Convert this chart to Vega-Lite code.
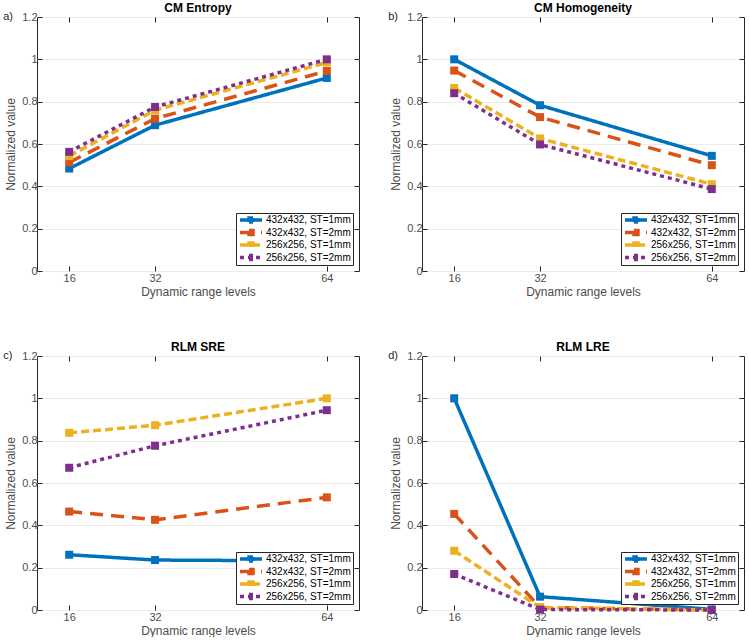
{
  "$schema": "https://vega.github.io/schema/vega-lite/v6.json",
  "padding": {"left": 2, "top": 1, "right": 2, "bottom": 0},
  "background": "white",
  "data": {"values": [
    {"panel": "a", "series": "432x432, ST=1mm", "level": 16, "value": 0.484},
    {"panel": "a", "series": "432x432, ST=1mm", "level": 32, "value": 0.689},
    {"panel": "a", "series": "432x432, ST=1mm", "level": 64, "value": 0.912},
    {"panel": "a", "series": "432x432, ST=2mm", "level": 16, "value": 0.513},
    {"panel": "a", "series": "432x432, ST=2mm", "level": 32, "value": 0.720},
    {"panel": "a", "series": "432x432, ST=2mm", "level": 64, "value": 0.945},
    {"panel": "a", "series": "256x256, ST=1mm", "level": 16, "value": 0.543},
    {"panel": "a", "series": "256x256, ST=1mm", "level": 32, "value": 0.760},
    {"panel": "a", "series": "256x256, ST=1mm", "level": 64, "value": 0.985},
    {"panel": "a", "series": "256x256, ST=2mm", "level": 16, "value": 0.563},
    {"panel": "a", "series": "256x256, ST=2mm", "level": 32, "value": 0.775},
    {"panel": "a", "series": "256x256, ST=2mm", "level": 64, "value": 1.0},
    {"panel": "b", "series": "432x432, ST=1mm", "level": 16, "value": 1.0},
    {"panel": "b", "series": "432x432, ST=1mm", "level": 32, "value": 0.783},
    {"panel": "b", "series": "432x432, ST=1mm", "level": 64, "value": 0.544},
    {"panel": "b", "series": "432x432, ST=2mm", "level": 16, "value": 0.947},
    {"panel": "b", "series": "432x432, ST=2mm", "level": 32, "value": 0.727},
    {"panel": "b", "series": "432x432, ST=2mm", "level": 64, "value": 0.50},
    {"panel": "b", "series": "256x256, ST=1mm", "level": 16, "value": 0.865},
    {"panel": "b", "series": "256x256, ST=1mm", "level": 32, "value": 0.626},
    {"panel": "b", "series": "256x256, ST=1mm", "level": 64, "value": 0.41},
    {"panel": "b", "series": "256x256, ST=2mm", "level": 16, "value": 0.84},
    {"panel": "b", "series": "256x256, ST=2mm", "level": 32, "value": 0.598},
    {"panel": "b", "series": "256x256, ST=2mm", "level": 64, "value": 0.387},
    {"panel": "c", "series": "432x432, ST=1mm", "level": 16, "value": 0.261},
    {"panel": "c", "series": "432x432, ST=1mm", "level": 32, "value": 0.236},
    {"panel": "c", "series": "432x432, ST=1mm", "level": 64, "value": 0.232},
    {"panel": "c", "series": "432x432, ST=2mm", "level": 16, "value": 0.465},
    {"panel": "c", "series": "432x432, ST=2mm", "level": 32, "value": 0.426},
    {"panel": "c", "series": "432x432, ST=2mm", "level": 64, "value": 0.532},
    {"panel": "c", "series": "256x256, ST=1mm", "level": 16, "value": 0.837},
    {"panel": "c", "series": "256x256, ST=1mm", "level": 32, "value": 0.873},
    {"panel": "c", "series": "256x256, ST=1mm", "level": 64, "value": 1.0},
    {"panel": "c", "series": "256x256, ST=2mm", "level": 16, "value": 0.672},
    {"panel": "c", "series": "256x256, ST=2mm", "level": 32, "value": 0.776},
    {"panel": "c", "series": "256x256, ST=2mm", "level": 64, "value": 0.944},
    {"panel": "d", "series": "432x432, ST=1mm", "level": 16, "value": 1.0},
    {"panel": "d", "series": "432x432, ST=1mm", "level": 32, "value": 0.063},
    {"panel": "d", "series": "432x432, ST=1mm", "level": 64, "value": 0.003},
    {"panel": "d", "series": "432x432, ST=2mm", "level": 16, "value": 0.454},
    {"panel": "d", "series": "432x432, ST=2mm", "level": 32, "value": 0.012},
    {"panel": "d", "series": "432x432, ST=2mm", "level": 64, "value": 0.0},
    {"panel": "d", "series": "256x256, ST=1mm", "level": 16, "value": 0.28},
    {"panel": "d", "series": "256x256, ST=1mm", "level": 32, "value": 0.012},
    {"panel": "d", "series": "256x256, ST=1mm", "level": 64, "value": 0.0},
    {"panel": "d", "series": "256x256, ST=2mm", "level": 16, "value": 0.17},
    {"panel": "d", "series": "256x256, ST=2mm", "level": 32, "value": 0.002},
    {"panel": "d", "series": "256x256, ST=2mm", "level": 64, "value": 0.0}
  ]},
  "config": {
    "font": "Liberation Sans",
    "view": {"stroke": "#262626", "strokeWidth": 1},
    "axis": {
      "labelFont": "Liberation Sans", "labelFontSize": 11, "labelColor": "#4d4d4d",
      "titleFont": "Liberation Sans", "titleFontSize": 12, "titleFontWeight": "normal", "titleColor": "#4d4d4d",
      "tickColor": "#262626", "tickSize": -5, "domain": false,
      "gridColor": "#ebebeb", "labelPadding": 5, "titlePadding": 4
    },
    "axisX": {"labelPadding": 6, "titlePadding": 3},
    "title": {"font": "Liberation Sans", "fontSize": 12, "fontWeight": "bold", "color": "#000000", "offset": -4},
    "legend": {
      "orient": "bottom-right", "offset": 6, "fillColor": "#ffffff", "strokeColor": "#262626",
      "padding": 2, "rowPadding": 2.5, "labelFont": "Liberation Sans", "labelFontSize": 10, "labelColor": "#000000",
      "labelOffset": 14, "symbolStrokeWidth": 3.5, "symbolSize": 100, "clipHeight": 10
    }
  },
  "columns": 2,
  "bounds": "flush",
  "spacing": {"row": 85, "column": 63},
  "resolve": {"scale": {"color": "independent", "strokeDash": "independent"}},
  "concat": [
    {
      "title": {"text": "CM Entropy"},
      "width": 322, "height": 254,
      "layer": [
        {
          "transform": [{"filter": "datum.panel === 'a'"}],
          "mark": {"type": "line", "strokeWidth": 3.5},
          "encoding": {
            "x": {"field": "level", "type": "quantitative", "scale": {"domain": [10, 70]}, "axis": {"values": [16, 32, 64], "title": "Dynamic range levels", "grid": false}},
            "y": {"field": "value", "type": "quantitative", "scale": {"domain": [0, 1.2]}, "axis": {"values": [0, 0.2, 0.4, 0.6, 0.8, 1, 1.2], "format": "~g", "title": "Normalized value", "grid": true}},
            "color": {"field": "series", "type": "nominal", "scale": {"domain": ["432x432, ST=1mm", "432x432, ST=2mm", "256x256, ST=1mm", "256x256, ST=2mm"], "range": ["#0072BD", "#D95319", "#EDB120", "#7E2F8E"]}, "legend": {"title": null, "symbolType": "M-1,0H3.4M0.8,-0.4H1.6V0.4H0.8Z"}},
            "strokeDash": {"field": "series", "type": "nominal", "scale": {"domain": ["432x432, ST=1mm", "432x432, ST=2mm", "256x256, ST=1mm", "256x256, ST=2mm"], "range": [[1, 0], [13, 8], [8, 4], [4, 4]]}, "legend": {"title": null, "symbolType": "M-1,0H3.4M0.8,-0.4H1.6V0.4H0.8Z"}}
          }
        },
        {
          "transform": [{"filter": "datum.panel === 'a'"}],
          "mark": {"type": "point", "shape": "square", "filled": true, "size": 64, "opacity": 1},
          "encoding": {
            "x": {"field": "level", "type": "quantitative", "axis": {"orient": "top", "values": [16, 32, 64], "labels": false, "title": null, "grid": false}},
            "y": {"field": "value", "type": "quantitative", "axis": {"orient": "right", "values": [0, 0.2, 0.4, 0.6, 0.8, 1, 1.2], "labels": false, "title": null, "grid": false}},
            "color": {"field": "series", "type": "nominal"}
          }
        },
        {
          "data": {"values": [{"label": "a)"}]},
          "mark": {"type": "text", "align": "left", "baseline": "middle", "fontSize": 11, "color": "#262626"},
          "encoding": {
            "x": {"datum": 3.7, "type": "quantitative", "axis": null},
            "y": {"datum": 1.2, "type": "quantitative", "axis": null},
            "text": {"field": "label"}
          }
        }
      ],
      "resolve": {"axis": {"x": "independent", "y": "independent"}}
    },
    {
      "title": {"text": "CM Homogeneity"},
      "width": 322, "height": 254,
      "layer": [
        {
          "transform": [{"filter": "datum.panel === 'b'"}],
          "mark": {"type": "line", "strokeWidth": 3.5},
          "encoding": {
            "x": {"field": "level", "type": "quantitative", "scale": {"domain": [10, 70]}, "axis": {"values": [16, 32, 64], "title": "Dynamic range levels", "grid": false}},
            "y": {"field": "value", "type": "quantitative", "scale": {"domain": [0, 1.2]}, "axis": {"values": [0, 0.2, 0.4, 0.6, 0.8, 1, 1.2], "format": "~g", "title": "Normalized value", "grid": true}},
            "color": {"field": "series", "type": "nominal", "scale": {"domain": ["432x432, ST=1mm", "432x432, ST=2mm", "256x256, ST=1mm", "256x256, ST=2mm"], "range": ["#0072BD", "#D95319", "#EDB120", "#7E2F8E"]}, "legend": {"title": null, "symbolType": "M-1,0H3.4M0.8,-0.4H1.6V0.4H0.8Z"}},
            "strokeDash": {"field": "series", "type": "nominal", "scale": {"domain": ["432x432, ST=1mm", "432x432, ST=2mm", "256x256, ST=1mm", "256x256, ST=2mm"], "range": [[1, 0], [13, 8], [8, 4], [4, 4]]}, "legend": {"title": null, "symbolType": "M-1,0H3.4M0.8,-0.4H1.6V0.4H0.8Z"}}
          }
        },
        {
          "transform": [{"filter": "datum.panel === 'b'"}],
          "mark": {"type": "point", "shape": "square", "filled": true, "size": 64, "opacity": 1},
          "encoding": {
            "x": {"field": "level", "type": "quantitative", "axis": {"orient": "top", "values": [16, 32, 64], "labels": false, "title": null, "grid": false}},
            "y": {"field": "value", "type": "quantitative", "axis": {"orient": "right", "values": [0, 0.2, 0.4, 0.6, 0.8, 1, 1.2], "labels": false, "title": null, "grid": false}},
            "color": {"field": "series", "type": "nominal"}
          }
        },
        {
          "data": {"values": [{"label": "b)"}]},
          "mark": {"type": "text", "align": "left", "baseline": "middle", "fontSize": 11, "color": "#262626"},
          "encoding": {
            "x": {"datum": 3.7, "type": "quantitative", "axis": null},
            "y": {"datum": 1.2, "type": "quantitative", "axis": null},
            "text": {"field": "label"}
          }
        }
      ],
      "resolve": {"axis": {"x": "independent", "y": "independent"}}
    },
    {
      "title": {"text": "RLM SRE"},
      "width": 322, "height": 254,
      "layer": [
        {
          "transform": [{"filter": "datum.panel === 'c'"}],
          "mark": {"type": "line", "strokeWidth": 3.5},
          "encoding": {
            "x": {"field": "level", "type": "quantitative", "scale": {"domain": [10, 70]}, "axis": {"values": [16, 32, 64], "title": "Dynamic range levels", "grid": false}},
            "y": {"field": "value", "type": "quantitative", "scale": {"domain": [0, 1.2]}, "axis": {"values": [0, 0.2, 0.4, 0.6, 0.8, 1, 1.2], "format": "~g", "title": "Normalized value", "grid": true}},
            "color": {"field": "series", "type": "nominal", "scale": {"domain": ["432x432, ST=1mm", "432x432, ST=2mm", "256x256, ST=1mm", "256x256, ST=2mm"], "range": ["#0072BD", "#D95319", "#EDB120", "#7E2F8E"]}, "legend": {"title": null, "symbolType": "M-1,0H3.4M0.8,-0.4H1.6V0.4H0.8Z"}},
            "strokeDash": {"field": "series", "type": "nominal", "scale": {"domain": ["432x432, ST=1mm", "432x432, ST=2mm", "256x256, ST=1mm", "256x256, ST=2mm"], "range": [[1, 0], [13, 8], [8, 4], [4, 4]]}, "legend": {"title": null, "symbolType": "M-1,0H3.4M0.8,-0.4H1.6V0.4H0.8Z"}}
          }
        },
        {
          "transform": [{"filter": "datum.panel === 'c'"}],
          "mark": {"type": "point", "shape": "square", "filled": true, "size": 64, "opacity": 1},
          "encoding": {
            "x": {"field": "level", "type": "quantitative", "axis": {"orient": "top", "values": [16, 32, 64], "labels": false, "title": null, "grid": false}},
            "y": {"field": "value", "type": "quantitative", "axis": {"orient": "right", "values": [0, 0.2, 0.4, 0.6, 0.8, 1, 1.2], "labels": false, "title": null, "grid": false}},
            "color": {"field": "series", "type": "nominal"}
          }
        },
        {
          "data": {"values": [{"label": "c)"}]},
          "mark": {"type": "text", "align": "left", "baseline": "middle", "fontSize": 11, "color": "#262626"},
          "encoding": {
            "x": {"datum": 3.7, "type": "quantitative", "axis": null},
            "y": {"datum": 1.2, "type": "quantitative", "axis": null},
            "text": {"field": "label"}
          }
        }
      ],
      "resolve": {"axis": {"x": "independent", "y": "independent"}}
    },
    {
      "title": {"text": "RLM LRE"},
      "width": 322, "height": 254,
      "layer": [
        {
          "transform": [{"filter": "datum.panel === 'd'"}],
          "mark": {"type": "line", "strokeWidth": 3.5},
          "encoding": {
            "x": {"field": "level", "type": "quantitative", "scale": {"domain": [10, 70]}, "axis": {"values": [16, 32, 64], "title": "Dynamic range levels", "grid": false}},
            "y": {"field": "value", "type": "quantitative", "scale": {"domain": [0, 1.2]}, "axis": {"values": [0, 0.2, 0.4, 0.6, 0.8, 1, 1.2], "format": "~g", "title": "Normalized value", "grid": true}},
            "color": {"field": "series", "type": "nominal", "scale": {"domain": ["432x432, ST=1mm", "432x432, ST=2mm", "256x256, ST=1mm", "256x256, ST=2mm"], "range": ["#0072BD", "#D95319", "#EDB120", "#7E2F8E"]}, "legend": {"title": null, "symbolType": "M-1,0H3.4M0.8,-0.4H1.6V0.4H0.8Z"}},
            "strokeDash": {"field": "series", "type": "nominal", "scale": {"domain": ["432x432, ST=1mm", "432x432, ST=2mm", "256x256, ST=1mm", "256x256, ST=2mm"], "range": [[1, 0], [13, 8], [8, 4], [4, 4]]}, "legend": {"title": null, "symbolType": "M-1,0H3.4M0.8,-0.4H1.6V0.4H0.8Z"}}
          }
        },
        {
          "transform": [{"filter": "datum.panel === 'd'"}],
          "mark": {"type": "point", "shape": "square", "filled": true, "size": 64, "opacity": 1},
          "encoding": {
            "x": {"field": "level", "type": "quantitative", "axis": {"orient": "top", "values": [16, 32, 64], "labels": false, "title": null, "grid": false}},
            "y": {"field": "value", "type": "quantitative", "axis": {"orient": "right", "values": [0, 0.2, 0.4, 0.6, 0.8, 1, 1.2], "labels": false, "title": null, "grid": false}},
            "color": {"field": "series", "type": "nominal"}
          }
        },
        {
          "data": {"values": [{"label": "d)"}]},
          "mark": {"type": "text", "align": "left", "baseline": "middle", "fontSize": 11, "color": "#262626"},
          "encoding": {
            "x": {"datum": 3.7, "type": "quantitative", "axis": null},
            "y": {"datum": 1.2, "type": "quantitative", "axis": null},
            "text": {"field": "label"}
          }
        }
      ],
      "resolve": {"axis": {"x": "independent", "y": "independent"}}
    }
  ]
}
